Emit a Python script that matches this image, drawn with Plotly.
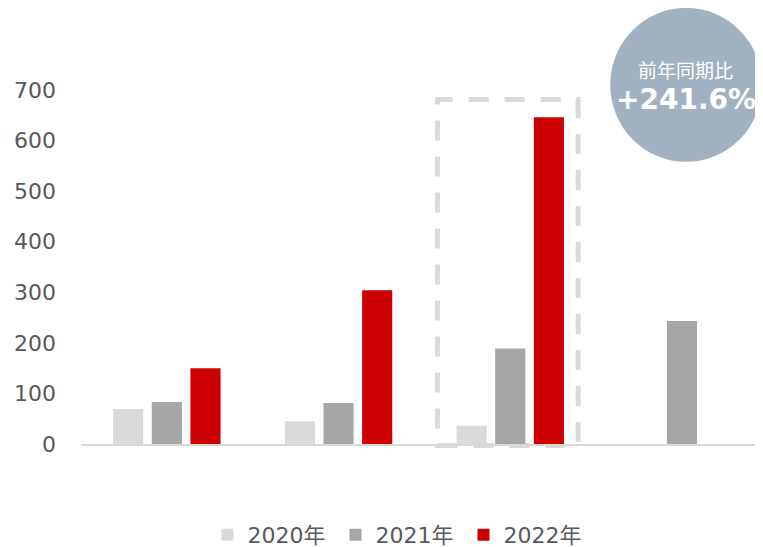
import plotly.graph_objects as go

# periods (x labels are hidden in the original chart)
periods = ["期間1", "期間2", "期間3", "期間4"]
years = ["2020年", "2021年", "2022年"]
values_2020 = [69, 45, 36, None]
values_2021 = [83, 81, 189, 243]
values_2022 = [150, 304, 646, None]
colors = ["#d9d9d9", "#a6a6a6", "#cc0000"]
badge_title = "前年同期比"
badge_value = "+241.6%"

FONT = "DejaVu Sans, Verdana, Noto Sans CJK JP, sans-serif"

fig = go.Figure()
for name, vals, col in zip(years, [values_2020, values_2021, values_2022], colors):
    fig.add_trace(go.Bar(
        x=periods,
        y=vals,
        name=name,
        marker=dict(color=col, line=dict(width=0)),
    ))

# dashed highlight box around the third group
fig.add_shape(
    type="rect", xref="x", yref="paper",
    x0=1.576, x1=2.395, y0=-0.004, y1=0.973,
    line=dict(color="#d9d9d9", width=5, dash="20px,16px"),
    fillcolor="rgba(0,0,0,0)",
    layer="below",
)

# badge circle
fig.add_shape(
    type="circle", xref="paper", yref="paper",
    x0=0.776, x1=0.9985, y0=0.797, y1=1.232,
    fillcolor="#a2b1c0", line=dict(width=0),
    layer="below",
)
fig.add_annotation(
    xref="paper", yref="paper", x=0.887, y=1.053,
    xanchor="center", yanchor="middle",
    text=badge_title, showarrow=False,
    font=dict(family=FONT, size=19, color="white"),
)
fig.add_annotation(
    xref="paper", yref="paper", x=0.887, y=0.972,
    xanchor="center", yanchor="middle",
    text="<b>" + badge_value + "</b>", showarrow=False,
    font=dict(family=FONT, size=28, color="white"),
)

# page body adds an 8px margin, so the figure is 8px smaller than the window
fig.update_layout(
    width=755,
    height=539,
    margin=dict(l=73, r=0, t=82, b=103, autoexpand=False),
    paper_bgcolor="white",
    plot_bgcolor="rgba(0,0,0,0)",
    barmode="group",
    bargap=0.325,
    bargroupgap=0.22,
    font=dict(family=FONT, color="#595959"),
    showlegend=True,
    legend=dict(
        orientation="h",
        x=0.467, xanchor="center",
        y=-0.257, yanchor="middle",
        font=dict(family=FONT, size=22, color="#595959"),
        itemsizing="constant",
        entrywidth=83,
    ),
    xaxis=dict(
        range=[-0.5, 3.472],
        showticklabels=False,
        showgrid=False,
        showline=True,
        linecolor="#d9d9d9",
        linewidth=2,
        zeroline=False,
        ticks="",
    ),
    yaxis=dict(
        range=[0, 700],
        tickvals=[0, 100, 200, 300, 400, 500, 600, 700],
        showgrid=False,
        zeroline=False,
        showline=False,
        ticklabelstandoff=24,
        tickfont=dict(family=FONT, size=22, color="#595959"),
    ),
)

fig.write_html("out.html")
